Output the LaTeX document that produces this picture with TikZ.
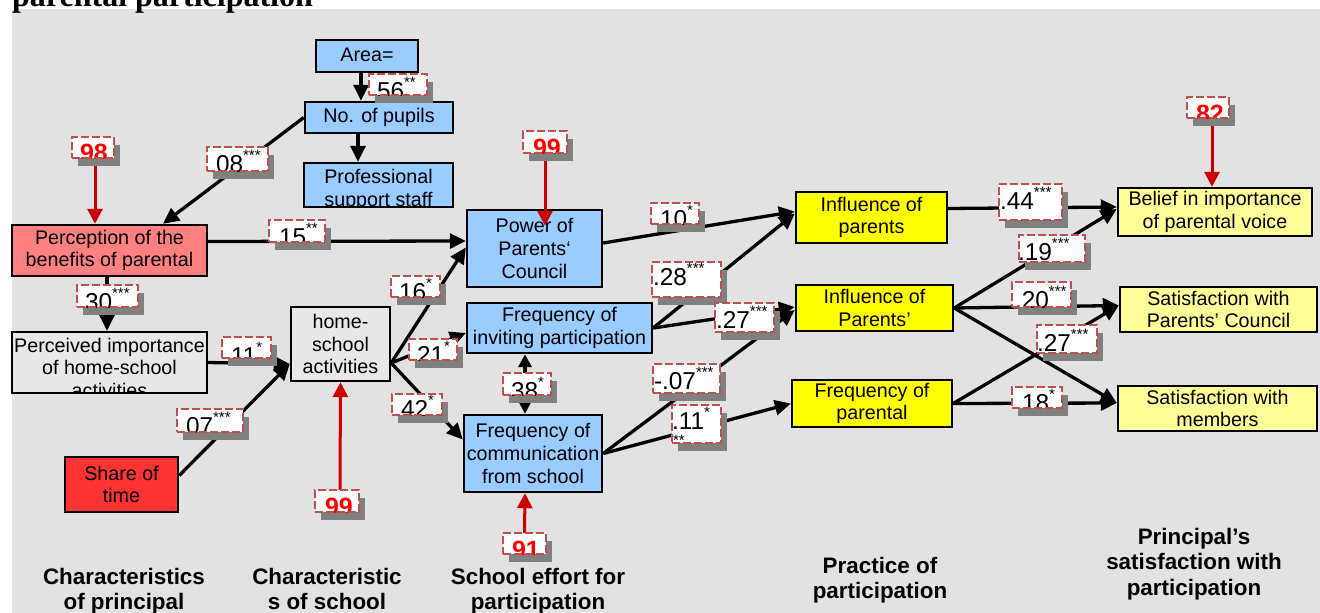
\documentclass[tikz,border=0pt]{standalone}
\usepackage{fontspec}
\setmainfont{Liberation Sans}
\newfontfamily\titleserif{Liberation Serif}
\usetikzlibrary{arrows.meta}
\definecolor{bggray}{RGB}{226,226,226}
\definecolor{lblue}{RGB}{153,204,255}
\definecolor{salmon}{RGB}{255,128,128}
\definecolor{boxgray}{RGB}{232,232,232}
\definecolor{redbox}{RGB}{255,51,51}
\definecolor{yel}{RGB}{255,255,0}
\definecolor{lyel}{RGB}{255,255,153}
\definecolor{dashred}{RGB}{192,80,77}
\definecolor{shgray}{RGB}{128,128,128}
\definecolor{arrred}{RGB}{204,0,0}
\pgfdeclarelayer{bg}
\pgfdeclarelayer{lines}
\pgfdeclarelayer{top}
\pgfsetlayers{bg,lines,main,top}
\newcommand\boxfont{\fontsize{19.7}{22.6}\selectfont}
\newcommand\cfont{\fontsize{24.4}{26}\selectfont}
\newcommand\rnum{\bfseries\fontsize{25}{26}\selectfont\color{red}}
\newcommand\sigst[1]{\raisebox{12pt}{\fontsize{15}{15}\selectfont #1}}
\tikzset{
  box/.style={draw=black, line width=2.4pt, inner sep=0pt, align=center, font=\boxfont, text=black},
  intext/.style={shape=rectangle, draw=none, fill=none, minimum width=0pt, minimum height=0pt, inner sep=0pt, outer sep=0pt, text=black},
  conn/.style={line width=3.3pt, draw=black, -{Triangle[length=16pt,width=15pt]}},
  dconn/.style={line width=3.3pt, draw=black, {Triangle[length=13pt,width=13pt]}-{Triangle[length=13pt,width=13pt]}},
  rconn/.style={line width=3pt, draw=arrred, -{Triangle[length=15pt,width=15pt]}},
  coef/.style={draw=dashred, line width=2.6pt, dash pattern=on 8pt off 3pt, fill=white, inner sep=0pt, outer sep=0pt},
  head/.style={font=\fontsize{22.4}{25.3}\selectfont\bfseries, align=center, inner sep=0pt, anchor=north},
}
\newcommand\coef[8]{%
  \fill[shgray] ({#2+5.5},{#3+7.5}) rectangle ({#4+5.5},{#5+7.5});
  \node[coef, minimum width={(#4-#2)*1pt}, minimum height={(#5-#3)*1pt},
    path picture={\node[intext, anchor=base west, font=\cfont] at ([xshift={(#6-#2)*1pt}, yshift={(#3-#7)*1pt}]path picture bounding box.north west) {#8};}]
    (#1) at ({(#2+#4)/2},{(#3+#5)/2}) {};%
}
\begin{document}
\begin{tikzpicture}[x=1pt,y=-1pt]
\useasboundingbox (0,0) rectangle (1320,613);
\begin{pgfonlayer}{bg}
\fill[white] (0,0) rectangle (1320,613);
\fill[bggray] (12,9) rectangle (1320,613);
\end{pgfonlayer}
% title
\node[anchor=base west, inner sep=0pt, font={\fontsize{32}{34}\titleserif\bfseries}] (title) at (12,6) {parental participation};
% boxes
\node[box, fill=lblue, minimum width=102pt, minimum height=32pt, text depth=3pt] (area) at (367,56) {Area=};
\node[box, fill=lblue, minimum width=148pt, minimum height=31pt] (pupils) at (379,117.5) {No. of pupils};
\node[box, fill=lblue, minimum width=149pt, minimum height=44pt,
  path picture={\node[intext, anchor=north, align=center, font=\boxfont] at ([yshift=-6.5pt]path picture bounding box.north) {Professional\\support staff};}] (prof) at (378.5,185) {};
\node[box, fill=salmon, minimum width=195pt, minimum height=51pt] (percep) at (109.5,250.5) {Perception of the\\benefits of parental};
\node[box, fill=boxgray, minimum width=195pt, minimum height=61pt,
  path picture={\node[intext, anchor=north, align=center, font=\boxfont] at ([yshift=-6pt]path picture bounding box.north) {Perceived importance\\of home-school\\activities};}] (perimp) at (109.5,362.5) {};
\node[box, fill=boxgray, minimum width=99pt, minimum height=74pt] (home) at (340.5,344) {home-\\school\\activities};
\node[box, fill=redbox, minimum width=113pt, minimum height=55pt] (share) at (121.5,484.5) {Share of\\time};
\node[box, fill=lblue, minimum width=135pt, minimum height=77pt] (power) at (534.5,248.5) {Power of\\Parents‘\\Council};
\node[box, fill=lblue, minimum width=185pt, minimum height=50pt] (invite) at (559.5,328) {Frequency of\\inviting participation};
\node[box, fill=lblue, minimum width=138pt, minimum height=77pt] (comm) at (533,453.5) {Frequency of\\communication\\from school};
\node[box, fill=yel, minimum width=151pt, minimum height=51pt] (inflA) at (871.5,217.5) {Influence of\\parents};
\node[box, fill=yel, minimum width=157pt, minimum height=46pt] (inflB) at (874.5,308) {Influence of\\Parents’};
\node[box, fill=yel, minimum width=160pt, minimum height=47pt] (freqp) at (872,403.5) {Frequency of\\parental};
\node[box, fill=lyel, minimum width=194pt, minimum height=48pt] (belief) at (1215,212) {Belief in importance\\of parental voice};
\node[box, fill=lyel, minimum width=197pt, minimum height=45pt] (satpc) at (1218.5,309.5) {Satisfaction with\\Parents’ Council};
\node[box, fill=lyel, minimum width=199pt, minimum height=45pt] (satm) at (1217.5,408.5) {Satisfaction with\\members};
% coefficient labels
\coef{c56}{369}{74}{427}{95}{377}{99}{56\sigst{**}}
\coef{c98}{72}{137}{114}{158}{80}{161}{\rnum 98}
\coef{c08}{207}{147}{268}{171}{216}{172}{08\sigst{***}}
\coef{c15}{269}{220}{325}{242}{279}{245}{15\sigst{**}}
\coef{c30}{77}{285}{138}{307}{85}{310}{30\sigst{***}}
\coef{c16}{391}{276}{440}{297}{399}{300}{16\sigst{*}}
\coef{c11}{222}{337}{271}{358}{231}{364}{11\sigst{*}}
\coef{c21}{409}{339}{457}{360}{417}{363}{21\sigst{*}}
\coef{c42}{392}{394}{442}{415}{401}{417}{42\sigst{*}}
\coef{c07}{177}{409}{243}{432}{186}{434}{07\sigst{***}}
\coef{c99s}{315}{490}{359}{512}{325}{515}{\rnum 99}
\coef{c99p}{523}{131}{567}{153}{533}{156}{\rnum 99}
\coef{c10}{651}{203}{699}{224}{660}{227}{10\sigst{*}}
\coef{c28}{652}{262}{721}{297}{653}{285}{.28\sigst{***}}
\coef{c27a}{715}{303}{774}{332}{716}{328}{.27\sigst{***}}
\coef{c38}{503}{373}{551}{395}{511}{399}{38\sigst{*}}
\coef{c07n}{653}{364}{720}{393}{654}{389}{-.07\sigst{***}}
\fill[shgray] (677.5,412.5) rectangle (726.5,450.5);
\node[coef, minimum width=49pt, minimum height=38pt,
  path picture={\node[intext, anchor=base west, font=\cfont] at ([xshift=0pt,yshift=-24pt]path picture bounding box.north west) {.11\sigst{*}};
  \node[intext, anchor=base west, font=\fontsize{15}{15}\selectfont] at ([xshift=1pt,yshift=-40pt]path picture bounding box.north west) {**};}] (c11b) at (696.5,424) {};
\coef{c82}{1187}{97}{1229}{118}{1196}{122}{\rnum 82}
\coef{c44}{999}{184}{1062}{220}{1000}{209}{.44\sigst{***}}
\coef{c19}{1019}{235}{1085}{262}{1018}{260}{.19\sigst{***}}
\coef{c20}{1012}{282}{1071}{307}{1015}{308}{.20\sigst{***}}
\coef{c27b}{1037}{325}{1097}{353}{1037}{351}{.27\sigst{***}}
\coef{c18}{1012}{387}{1062}{408}{1022}{411}{18\sigst{*}}
\coef{c91}{503}{533}{546}{554}{512}{558}{\rnum 91}
% headings
\node[head] (h1) at (124,568) {Characteristics\\of principal};
\node[head] (h2) at (327,568) {Characteristic\\s of school};
\node[head] (h3) at (538,568) {School effort for\\participation};
\node[head] (h4) at (880,557) {Practice of\\participation};
\node[head] (h5) at (1194,528) {Principal’s\\satisfaction with\\participation};
% connectors
\begin{pgfonlayer}{lines}
\draw[conn] ([xshift=-6pt]area.south) -- ([xshift=-18pt]pupils.north);
\draw[conn] ([xshift=-21pt]pupils.south) -- ([xshift=-20.5pt]prof.north);
\draw[conn] (pupils.west) -- ([xshift=53.5pt]percep.north);
\draw[conn] ([yshift=9pt]percep.east) -- ([yshift=7.5pt]power.west);
\draw[conn] ([xshift=-2.5pt]percep.south) -- ([xshift=-2.5pt]perimp.north);
\draw[conn] (perimp.east) -- ([yshift=-20pt]home.west);
\draw[conn] ([yshift=9pt]share.east) -- ([yshift=-20pt]home.west);
\draw[conn] ([yshift=-19pt]home.east) -- ([yshift=1pt]power.west);
\draw[conn] ([yshift=-19pt]home.east) -- ([yshift=-5pt]invite.west);
\draw[conn] ([yshift=-19pt]home.east) -- ([yshift=14pt]comm.west);
\draw[conn] ([yshift=5.5pt]power.east) -- ([yshift=6pt]inflA.west);
\draw[conn] (invite.east) -- ([yshift=4pt]inflA.west);
\draw[conn] (invite.east) -- ([yshift=1pt]inflB.west);
\draw[conn] (comm.east) -- ([yshift=-2pt]inflB.west);
\draw[conn] (comm.east) -- (freqp.west);
\draw[dconn] ([xshift=-34.5pt]invite.south) -- ([xshift=-8pt]comm.north);
\draw[conn] ([yshift=9pt]inflA.east) -- ([yshift=5pt]belief.west);
\draw[conn] (inflB.east) -- ([yshift=3pt]belief.west);
\draw[conn] (inflB.east) -- ([yshift=4pt]satpc.west);
\draw[conn] (inflB.east) -- ([yshift=5.5pt]satm.west);
\draw[conn] (freqp.east) -- ([yshift=4pt]satpc.west);
\draw[conn] (freqp.east) -- ([yshift=5.5pt]satm.west);
\draw[rconn] ([xshift=2pt]c98.south) -- ([xshift=-14.5pt]percep.north);
\draw[rconn] ([xshift=3pt]c99s.north) -- (home.south);
\draw[rconn] ([xshift=4pt]c82.south) -- ([xshift=-3pt]belief.north);
\draw[rconn] (c91.north) -- ([xshift=-8pt]comm.south);
\end{pgfonlayer}
\begin{pgfonlayer}{top}
\draw[rconn] ([yshift=-8pt]c99p.south) -- ([xshift=10.5pt,yshift=-17pt]power.north);
\end{pgfonlayer}
\end{tikzpicture}
\end{document}
